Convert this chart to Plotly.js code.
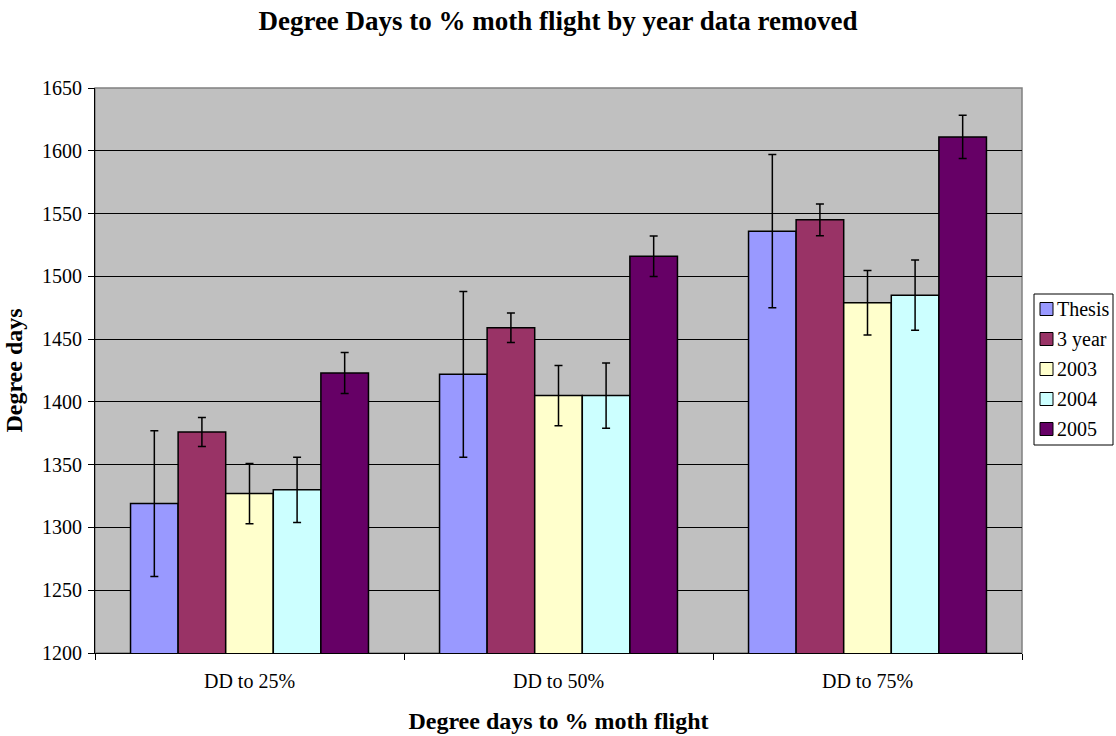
<!DOCTYPE html>
<html>
<head>
<meta charset="utf-8">
<script src="https://cdn.plot.ly/plotly-3.0.1.min.js"></script>
<style>
html,body{margin:0;padding:0;background:#fff;}
#chart{width:1116px;height:736px;}
</style>
</head>
<body>
<div id="chart"></div>
<script>
const categories = ["DD to 25%", "DD to 50%", "DD to 75%"];
const seriesNames = ["Thesis", "3 year", "2003", "2004", "2005"];
const thesis = [1319, 1422, 1536];
const threeYear = [1376, 1459, 1545];
const y2003 = [1327, 1405, 1479];
const y2004 = [1330, 1405, 1485];
const y2005 = [1423, 1516, 1611];
const errThesis = [58, 66, 61];
const errThreeYear = [11.5, 11.7, 12.7];
const err2003 = [24, 24, 25.7];
const err2004 = [26, 26, 28];
const err2005 = [16.3, 16.2, 17.2];
const colors = ["#9999FF", "#993366", "#FFFFCC", "#CCFFFF", "#660066"];

const values = [thesis, threeYear, y2003, y2004, y2005];
const errors = [errThesis, errThreeYear, err2003, err2004, err2005];
const FONT = "Liberation Serif, Times New Roman, serif";

const traces = seriesNames.map((name, i) => ({
  type: "bar",
  name: name,
  x: categories,
  y: values[i],
  showlegend: false,
  marker: {color: colors[i], line: {color: "#000", width: 1.5}},
  error_y: {type: "data", array: errors[i], visible: true, color: "#000", thickness: 1.5, width: 4}
}));

// plot-area geometry (pixels) used to place the hand-drawn legend box
const PL = 95, PR = 1022, PT = 88, PB = 653;
const px = v => (v - PL) / (PR - PL);
const py = v => (PB - v) / (PB - PT);

const shapes = [{type: "rect", xref: "paper", yref: "paper", x0: 0, x1: 1, y0: 0, y1: 1,
                 line: {color: "#808080", width: 1.5}, layer: "below"},
                {type: "rect", xref: "paper", yref: "paper", x0: px(1034), x1: px(1113), y0: py(445), y1: py(294),
                 line: {color: "#000", width: 1}, fillcolor: "#fff"}];
const annotations = [];
seriesNames.forEach((name, i) => {
  const cy = 309 + 30 * i;
  shapes.push({type: "rect", xref: "paper", yref: "paper",
               x0: px(1040), x1: px(1053), y0: py(cy + 6.5), y1: py(cy - 6.5),
               fillcolor: colors[i], line: {color: "#000", width: 1}});
  annotations.push({xref: "paper", yref: "paper", x: px(1055), y: py(cy), xanchor: "left", yanchor: "middle",
                    text: name, showarrow: false, font: {family: FONT, size: 20, color: "#000"}});
});

const layout = {
  width: 1116, height: 736,
  margin: {l: PL, r: 1116 - PR, t: PT, b: 736 - PB},
  paper_bgcolor: "#ffffff",
  plot_bgcolor: "#C0C0C0",
  barmode: "group",
  bargap: 0.23,
  bargroupgap: 0,
  showlegend: false,
  font: {family: FONT, color: "#000", size: 20},
  title: {text: "<b>Degree Days to % moth flight by year data removed</b>",
          font: {family: FONT, size: 27, color: "#000"},
          x: 0.5, xref: "container", y: 1 - 21/736, yref: "container", yanchor: "middle"},
  xaxis: {
    type: "category",
    tickson: "boundaries",
    ticks: "outside", ticklen: 6, tickcolor: "#000", tickwidth: 1,
    showline: true, linecolor: "#000", linewidth: 1,
    showgrid: false,
    ticklabelstandoff: 10,
    tickfont: {family: FONT, size: 20},
    title: {text: "<b>Degree days to % moth flight</b>", font: {family: FONT, size: 24}, standoff: 21}
  },
  yaxis: {
    range: [1200, 1650], dtick: 50,
    ticks: "outside", ticklen: 6, tickcolor: "#000", tickwidth: 1,
    showline: true, linecolor: "#000", linewidth: 1,
    gridcolor: "#000", gridwidth: 1,
    zeroline: false,
    ticklabelstandoff: 2,
    tickfont: {family: FONT, size: 20},
    title: {text: "<b>Degree days</b>", font: {family: FONT, size: 24}, standoff: 12}
  },
  shapes: shapes,
  annotations: annotations
};

Plotly.newPlot("chart", traces, layout, {displayModeBar: false, staticPlot: true});
</script>
</body>
</html>
